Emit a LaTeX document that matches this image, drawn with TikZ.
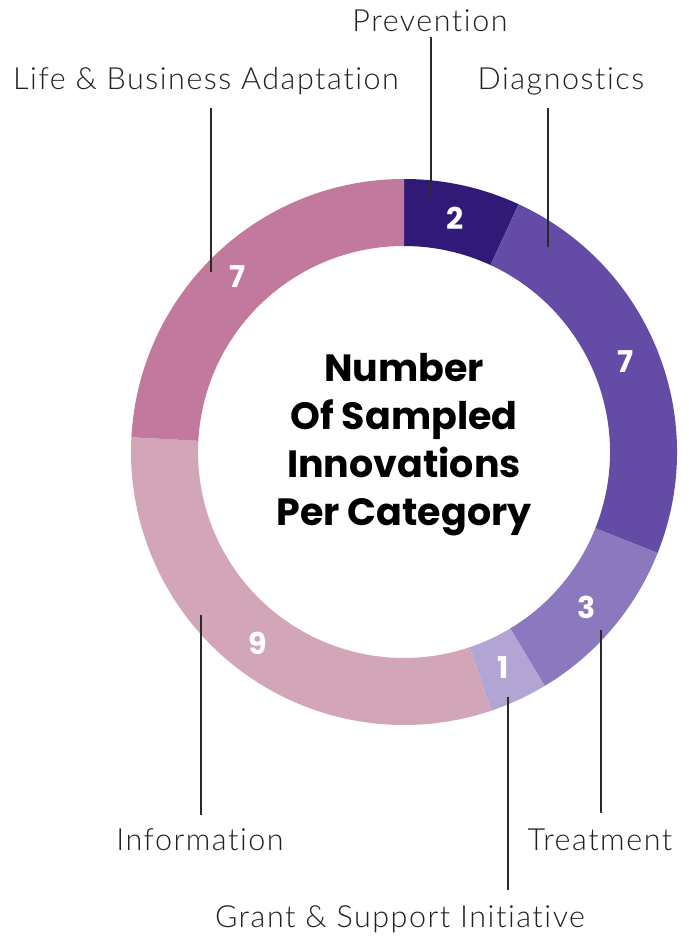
\documentclass[tikz,border=0pt]{standalone}
\usepackage{fontspec}
\setmainfont{Lato}
\newfontfamily\labelfont{Lato Light}[LetterSpace=5, Ligatures=NoCommon]
\newfontfamily\titlefont{Poppins}
\definecolor{cprev}{HTML}{311A77}
\definecolor{cdiag}{HTML}{644BA6}
\definecolor{ctreat}{HTML}{8B78BF}
\definecolor{cgrant}{HTML}{B2A5D3}
\definecolor{cinfo}{HTML}{D3A5B8}
\definecolor{clife}{HTML}{C17A9E}
\definecolor{labelgray}{HTML}{231F20}
\definecolor{linegray}{HTML}{2A2A2A}
\newcommand\donutseg[3]{%
  \fill[#3] ([shift={(#1:273pt)}]c) arc[start angle=#1,end angle=#2,radius=273pt]
    -- ([shift={(#2:206pt)}]c) arc[start angle=#2,end angle=#1,radius=206pt] -- cycle;}
\begin{document}
\begin{tikzpicture}[x=1pt,y=1pt,
  lbl/.style={font=\labelfont\fontsize{30.5}{30.5}\selectfont, text=labelgray, inner sep=0pt, anchor=base},
  num/.style={font=\titlefont\bfseries\fontsize{30}{30}\selectfont, text=white, inner sep=0pt},
  titletext/.style={font=\titlefont\bfseries\fontsize{38}{48}\selectfont, text=black, align=center, inner sep=0pt},
  lead/.style={draw=linegray, line width=1.2pt}]
\useasboundingbox (0,0) rectangle (688,-936);
\coordinate (c) at (404,-452);
% ring segments
\donutseg{90}{65.172}{cprev}
\donutseg{65.172}{-21.724}{cdiag}
\donutseg{-21.724}{-58.966}{ctreat}
\donutseg{-58.966}{-71.379}{cgrant}
\donutseg{-71.379}{-183.103}{cinfo}
\donutseg{-183.103}{-270}{clife}
% numbers
\node[num] (nprev) at (455,-218) {2};
\node[num] (ndiag) at (626,-362) {7};
\node[num] (ntreat) at (587,-607) {3};
\node[num] (ngrant) at (503,-668) {1};
\node[num] (ninfo) at (258,-643) {9};
\node[num] (nlife) at (238,-277) {7};
% centre title
\node[titletext] (title) at (404,-445) {Number\\Of Sampled\\Innovations\\Per Category};
% labels
\node[lbl] (lprev) at (430,-32) {Prevention};
\node[lbl] (ldiag) at (561,-90) {Diagnostics};
\node[lbl] (llife) at (206,-90) {Life \& Business Adaptation};
\node[lbl] (ltreat) at (600,-850) {Treatment};
\node[lbl] (lgrant) at (400,-927) {Grant \& Support Initiative};
\node[lbl] (linfo) at (200,-850) {Information};
% leader end points in the ring
\coordinate (eprev) at (431,-198);
\coordinate (ediag) at (548,-247);
\coordinate (elife) at (211,-272);
\coordinate (etreat) at (601,-630);
\coordinate (egrant) at (508,-697);
\coordinate (einfo) at (201,-615);
% leaders
\draw[lead] ([yshift=-5pt]lprev.south -| eprev) -- (eprev);
\draw[lead] ([yshift=-12pt]ldiag.south -| ediag) -- (ediag);
\draw[lead] ([yshift=-12pt]llife.south -| elife) -- (elife);
\draw[lead] ([yshift=15pt]ltreat.north -| etreat) -- (etreat);
\draw[lead] ([yshift=15pt]lgrant.north -| egrant) -- (egrant);
\draw[lead] ([yshift=13pt]linfo.north -| einfo) -- (einfo);
\end{tikzpicture}
\end{document}
